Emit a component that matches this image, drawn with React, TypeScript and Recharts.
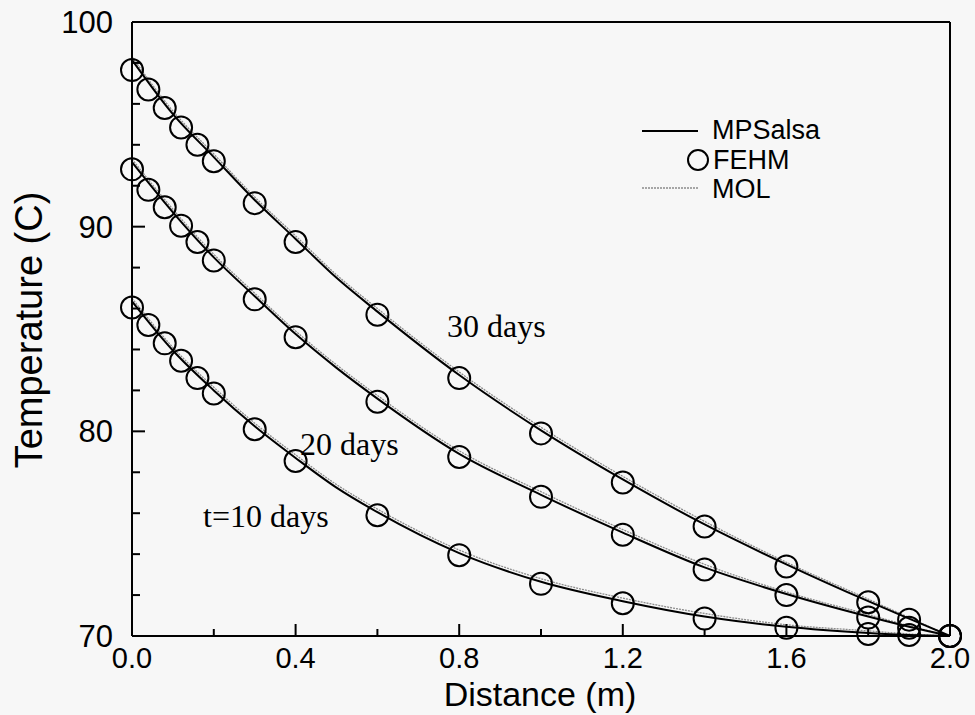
import React from 'react';
import { ComposedChart, XAxis, YAxis, Line, Scatter } from 'recharts';

// FEHM sample points (circles)
const fehmDist = [0, 0.04, 0.08, 0.12, 0.16, 0.2, 0.3, 0.4, 0.6, 0.8, 1.0, 1.2, 1.4, 1.6, 1.8, 1.9, 2.0];
const fehm30 = [97.65, 96.7, 95.8, 94.85, 94.0, 93.2, 91.15, 89.25, 85.7, 82.6, 79.9, 77.5, 75.35, 73.4, 71.65, 70.8, 70.0];
const fehm20 = [92.8, 91.8, 90.95, 90.05, 89.25, 88.35, 86.45, 84.6, 81.45, 78.75, 76.8, 74.95, 73.25, 72.0, 70.9, 70.4, 70.0];
const fehm10 = [86.05, 85.2, 84.3, 83.45, 82.6, 81.85, 80.1, 78.55, 75.9, 73.95, 72.55, 71.6, 70.85, 70.4, 70.1, 70.05, 70.0];

// curve points (MPSalsa solid, MOL grey)
const curveDist = [0, 0.1, 0.2, 0.3, 0.4, 0.5, 0.6, 0.8, 1.0, 1.2, 1.4, 1.6, 1.8, 1.9, 2.0];
const mps30 = [98.15, 95.5, 93.4, 91.3, 89.4, 87.5, 85.85, 82.75, 80.05, 77.65, 75.45, 73.5, 71.7, 70.85, 70.0];
const mps20 = [93.15, 90.7, 88.5, 86.6, 84.75, 83.1, 81.6, 78.9, 76.9, 75.05, 73.35, 72.05, 70.95, 70.45, 70.0];
const mps10 = [86.35, 83.95, 82.0, 80.25, 78.7, 77.25, 76.05, 74.05, 72.65, 71.7, 70.95, 70.45, 70.15, 70.05, 70.0];
const mol30 = [98.3, 95.65, 93.55, 91.45, 89.55, 87.65, 86.0, 82.9, 80.2, 77.8, 75.6, 73.6, 71.8, 70.9, 70.0];
const mol20 = [93.3, 90.85, 88.65, 86.75, 84.9, 83.25, 81.75, 79.05, 77.05, 75.2, 73.5, 72.15, 71.05, 70.5, 70.0];
const mol10 = [86.5, 84.1, 82.15, 80.4, 78.85, 77.4, 76.2, 74.2, 72.8, 71.85, 71.1, 70.55, 70.25, 70.1, 70.0];

const xTicks = [0, 0.2, 0.4, 0.6, 0.8, 1.0, 1.2, 1.4, 1.6, 1.8, 2.0];
const yTicks = [70, 72, 74, 76, 78, 80, 82, 84, 86, 88, 90, 92, 94, 96, 98, 100];

const pts = (xs: number[], ys: number[]) => xs.map((x, i) => ({ x, y: ys[i] }));

const SANS = "'Liberation Sans', Arial, sans-serif";
const SERIF = "'Liberation Serif', 'Times New Roman', serif";

const isMajorX = (v: number) => Math.abs(v / 0.4 - Math.round(v / 0.4)) < 1e-6;
const isMajorY = (v: number) => v % 10 === 0;

const BottomTick = (props: any) => {
  const { x, y, payload } = props;
  const major = isMajorX(payload.value);
  return (
    <g>
      <line x1={x} y1={y} x2={x} y2={y - (major ? 12 : 7)} stroke="#000" strokeWidth={2} />
      {major && (
        <text x={x} y={y + 32} textAnchor="middle" fontSize={29} fontFamily={SANS} fill="#000">
          {payload.value.toFixed(1)}
        </text>
      )}
    </g>
  );
};

const TopTick = (props: any) => {
  const { x, y, payload } = props;
  const major = isMajorX(payload.value);
  return <line x1={x} y1={y} x2={x} y2={y + (major ? 12 : 7)} stroke="#000" strokeWidth={2} />;
};

const LeftTick = (props: any) => {
  const { x, y, payload } = props;
  const major = isMajorY(payload.value);
  return (
    <g>
      <line x1={x} y1={y} x2={x + (major ? 13 : 8)} y2={y} stroke="#000" strokeWidth={2} />
      {major && (
        <text x={x - 19} y={y + 11} textAnchor="end" fontSize={31} fontFamily={SANS} fill="#000">
          {payload.value}
        </text>
      )}
    </g>
  );
};

const RightTick = (props: any) => {
  const { x, y, payload } = props;
  const major = isMajorY(payload.value);
  return <line x1={x} y1={y} x2={x - (major ? 13 : 8)} y2={y} stroke="#000" strokeWidth={2} />;
};

const ring = (p: any) => (
  <circle cx={p.cx} cy={p.cy} r={11} fill="none" stroke="#000" strokeWidth={2} />
);

const axisLine = { stroke: '#000', strokeWidth: 2 };

export default function App() {
  return (
    <div style={{ position: 'absolute', left: 0, top: 0, width: 975, height: 715, background: '#f7f7f7' }}>
      <ComposedChart width={975} height={715} margin={{ top: 0, right: 0, bottom: 0, left: 0 }}>
        <XAxis
          dataKey="x"
          type="number"
          domain={[0, 2]}
          ticks={xTicks}
          interval={0}
          height={79}
          tickSize={0}
          tickMargin={0}
          tickLine={false}
          axisLine={axisLine}
          tick={<BottomTick />}
        />
        <XAxis
          xAxisId="top"
          orientation="top"
          dataKey="x"
          type="number"
          domain={[0, 2]}
          ticks={xTicks}
          interval={0}
          height={22}
          tickSize={0}
          tickMargin={0}
          tickLine={false}
          axisLine={axisLine}
          tick={<TopTick />}
        />
        <YAxis
          dataKey="y"
          type="number"
          domain={[70, 100]}
          ticks={yTicks}
          interval={0}
          width={132}
          tickSize={0}
          tickMargin={0}
          tickLine={false}
          axisLine={axisLine}
          tick={<LeftTick />}
        />
        <YAxis
          yAxisId="right"
          orientation="right"
          dataKey="y"
          type="number"
          domain={[70, 100]}
          ticks={yTicks}
          interval={0}
          width={25}
          tickSize={0}
          tickMargin={0}
          tickLine={false}
          axisLine={axisLine}
          tick={<RightTick />}
        />

        <Line data={pts(curveDist, mol30)} dataKey="y" type="monotone" stroke="#8c8c8c" strokeWidth={1.3} strokeDasharray="2 1" dot={false} isAnimationActive={false} />
        <Line data={pts(curveDist, mol20)} dataKey="y" type="monotone" stroke="#8c8c8c" strokeWidth={1.3} strokeDasharray="2 1" dot={false} isAnimationActive={false} />
        <Line data={pts(curveDist, mol10)} dataKey="y" type="monotone" stroke="#8c8c8c" strokeWidth={1.3} strokeDasharray="2 1" dot={false} isAnimationActive={false} />
        <Line data={pts(curveDist, mps30)} dataKey="y" type="monotone" stroke="#000" strokeWidth={2} dot={false} isAnimationActive={false} />
        <Line data={pts(curveDist, mps20)} dataKey="y" type="monotone" stroke="#000" strokeWidth={2} dot={false} isAnimationActive={false} />
        <Line data={pts(curveDist, mps10)} dataKey="y" type="monotone" stroke="#000" strokeWidth={2} dot={false} isAnimationActive={false} />

        <Scatter data={pts(fehmDist, fehm30)} shape={ring} isAnimationActive={false} />
        <Scatter data={pts(fehmDist, fehm20)} shape={ring} isAnimationActive={false} />
        <Scatter data={pts(fehmDist, fehm10)} shape={ring} isAnimationActive={false} />
      </ComposedChart>

      <svg width={975} height={715} style={{ position: 'absolute', left: 0, top: 0, pointerEvents: 'none' }}>
        {/* axis titles */}
        <text x={540} y={706} textAnchor="middle" fontSize={34} fontFamily={SANS} fill="#000">Distance (m)</text>
        <text x={42} y={330} textAnchor="middle" fontSize={38} fontFamily={SANS} fill="#000" transform="rotate(-90 42 330)">Temperature (C)</text>

        {/* curve labels */}
        <text x={447} y={337} fontSize={32} fontFamily={SERIF} fill="#000">30 days</text>
        <text x={300} y={455} fontSize={32} fontFamily={SERIF} fill="#000">20 days</text>
        <text x={203} y={527} fontSize={32} fontFamily={SERIF} fill="#000">t=10 days</text>

        {/* legend */}
        <line x1={642} y1={131} x2={698} y2={131} stroke="#000" strokeWidth={2} />
        <text x={712} y={139} fontSize={27} fontFamily={SANS} fill="#000">MPSalsa</text>
        <circle cx={698} cy={160} r={10} fill="none" stroke="#000" strokeWidth={2} />
        <text x={713} y={169} fontSize={27} fontFamily={SANS} fill="#000">FEHM</text>
        <line x1={642} y1={188} x2={698} y2={188} stroke="#8c8c8c" strokeWidth={1.5} strokeDasharray="2 1" />
        <text x={712} y={198} fontSize={27} fontFamily={SANS} fill="#000">MOL</text>
      </svg>
    </div>
  );
}
